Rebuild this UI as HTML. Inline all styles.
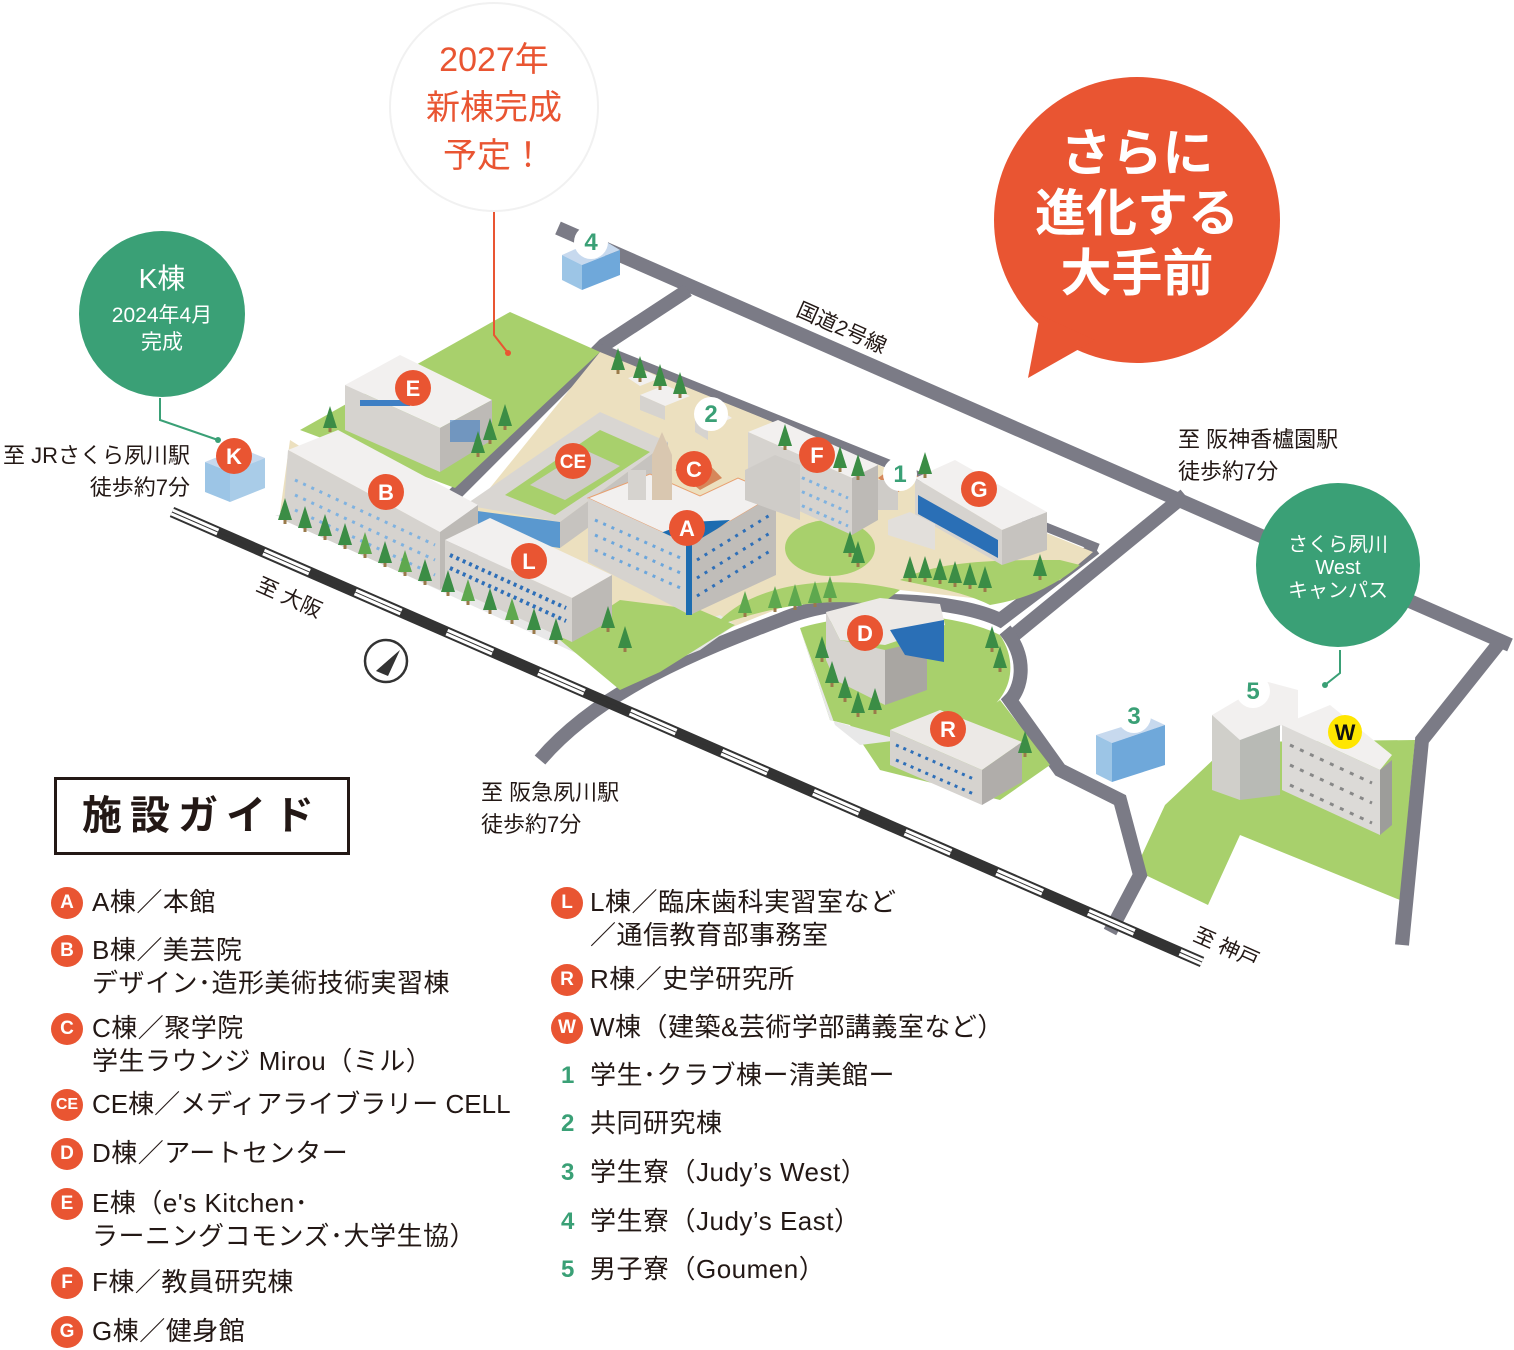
<!DOCTYPE html>
<html><head><meta charset="utf-8"><style>
html,body{margin:0;padding:0;background:#fff}
body{width:1514px;height:1350px;position:relative;overflow:hidden;font-family:"Liberation Sans","Noto Sans CJK JP",sans-serif;color:#231815}
svg{position:absolute;left:0;top:0}
.t{position:absolute;white-space:nowrap}
.lg{position:absolute;font-size:26px;line-height:33px;letter-spacing:0.5px;white-space:nowrap}
.c{position:absolute;width:32px;height:32px;border-radius:50%;background:#e95532;color:#fff;font-weight:bold;font-size:19px;line-height:32px;text-align:center}
.n{position:absolute;color:#3aa076;font-weight:bold;font-size:24px;line-height:30px}
</style></head><body>
<svg width="1514" height="1350" viewBox="0 0 1514 1350">
<defs>
<g id="tr"><rect x="-1.5" y="6" width="3" height="6" fill="#9a7a4a"/><path d="M0,-14 L7,8 L-7,8Z" fill="#3b8d45"/></g>
<g id="tr2"><rect x="-1.5" y="6" width="3" height="6" fill="#9a7a4a"/><path d="M0,-14 L7,8 L-7,8Z" fill="#5ea84e"/></g>
</defs>
<polygon points="1135,870 1165,805 1232,742 1415,740 1400,900 1240,835 1208,905" fill="#a8d06c"/>
<g fill="none" stroke="#7b7b86" stroke-width="14" stroke-linejoin="miter">
<polyline points="558,228 1510,645"/>
<polyline points="688,290 604,345 452,497"/>
<polyline points="1185,495 1008,640"/>
<path d="M1095,548 L1000,620 C960,600 850,590 780,620 C700,650 600,690 540,760"/>
<path d="M1005,630 C1030,660 1020,690 1010,700 L1060,770 L1120,800 L1140,875 L1110,932"/>
<polyline points="1500,642 1422,740 1402,945"/>
</g>
<polyline points="600,348 1098,548" stroke="#7b7b86" stroke-width="9" fill="none"/>
<polygon points="300,430 510,312 600,352 455,488" fill="#a8d06c"/>
<polygon points="600,352 1093,552 1060,580 990,600 900,590 800,600 730,628 640,680 580,650 468,515" fill="#ece0bf"/>
<polygon points="280,512 640,680 700,645 600,600 480,560 290,440" fill="#ece0bf"/>
<polygon points="275,515 630,678 700,650 735,625 720,615 620,650 300,515" fill="#e8e8e8"/>
<polygon points="560,640 620,600 700,610 735,625 660,672 620,690" fill="#a8d06c"/>
<path d="M720,620 C760,580 840,575 900,590 L880,605 C820,596 760,610 720,625Z" fill="#a8d06c"/>
<path d="M900,580 C940,560 1000,560 1060,560 L1080,565 C1050,590 1020,600 990,605 C960,590 920,585 900,580Z" fill="#a8d06c"/>
<ellipse cx="830" cy="548" rx="45" ry="28" fill="#a8d06c"/>
<path d="M800,628 C860,610 950,610 1000,635 C1020,665 1010,700 980,715 L1000,700 L1050,765 L1000,800 L880,770 L850,725 L830,720Z" fill="#a8d06c"/>
<path d="M800,628 L830,720 L900,740 L860,745 L835,725Z" fill="#e8e8e8"/>
<line x1="172" y1="512" x2="1202" y2="962" stroke="#333" stroke-width="11"/>
<line x1="172" y1="512" x2="1202" y2="962" stroke="#fff" stroke-width="7" stroke-dasharray="50,50"/>
<line x1="172" y1="512" x2="1202" y2="962" stroke="#333" stroke-width="1"/>
<polygon points="465,505 600,412 668,442 560,522" fill="#d9d6d2"/>
<polygon points="505,495 600,430 650,452 555,515" fill="#a8d06c"/>
<polygon points="530,485 585,450 620,466 565,500" fill="#cfccc8"/>
<polygon points="470,510 560,522 560,548 470,535" fill="#5a98cf"/>
<polygon points="560,522 668,442 668,470 560,548" fill="#c6c3bf"/>
<polygon points="345,385 400,355 492,400 440,428" fill="#f2f0ef"/>
<polygon points="345,385 440,428 440,472 345,430" fill="#d6d3cf"/>
<polygon points="440,428 492,400 492,440 440,472" fill="#bdbab6"/>
<g fill="#3e7fc4"><rect x="360" y="400" width="50" height="6"/><rect x="450" y="420" width="30" height="22" opacity=".6"/></g>
<polygon points="288,450 338,430 478,505 440,532" fill="#f2f0ef"/>
<polygon points="288,450 440,532 440,590 283,520" fill="#d6d3cf"/>
<polygon points="440,532 478,505 478,560 440,590" fill="#bdbab6"/>
<g stroke="#7fb2e0" stroke-width="3" stroke-dasharray="3,6"><line x1="295" y1="480" x2="435" y2="545"/><line x1="295" y1="495" x2="435" y2="560"/><line x1="295" y1="510" x2="435" y2="575"/></g>
<polygon points="445,540 490,518 612,575 572,598" fill="#f2f0ef"/>
<polygon points="445,540 572,598 572,642 445,585" fill="#d6d3cf"/>
<polygon points="572,598 612,575 612,620 572,642" fill="#bdbab6"/>
<g stroke="#2e6fb8" stroke-width="4" stroke-dasharray="3,4"><line x1="450" y1="555" x2="566" y2="608"/><line x1="450" y1="568" x2="566" y2="621"/></g>
<polygon points="588,498 650,474 700,496 738,478 776,494 690,545" fill="#f2f0ef" stroke="#e8a070" stroke-width="1"/>
<polygon points="655,535 690,522 730,520 690,548" fill="#1d6cb0"/>
<polygon points="588,498 690,545 690,615 588,562" fill="#d6d3cf"/>
<polygon points="690,545 776,494 776,575 690,615" fill="#c0bdb9"/>
<rect x="686" y="545" width="6" height="70" fill="#1d6cb0"/>
<g stroke="#6ba6dc" stroke-width="3" stroke-dasharray="3,6"><line x1="595" y1="520" x2="685" y2="560"/><line x1="595" y1="535" x2="685" y2="575"/><line x1="595" y1="550" x2="685" y2="590"/></g>
<g stroke="#2e6fb8" stroke-width="3" stroke-dasharray="3,6"><line x1="697" y1="560" x2="770" y2="515"/><line x1="697" y1="578" x2="770" y2="533"/><line x1="697" y1="596" x2="770" y2="551"/></g>
<polygon points="652,455 662,432 672,455 672,500 652,500" fill="#d9c7b0"/>
<polygon points="675,470 700,455 722,478 700,490" fill="#d6875a"/>
<rect x="628" y="470" width="18" height="30" fill="#d6d3cf"/>
<polygon points="640,395 665,385 690,396 665,406" fill="#f2f0ef"/><polygon points="640,395 665,406 665,420 640,410" fill="#d6d3cf"/>
<polygon points="695,420 720,410 732,418 708,428" fill="#f2f0ef"/><polygon points="695,420 708,428 708,440 695,432" fill="#d6d3cf"/>
<polygon points="628,378 648,372 660,378 640,386" fill="#f2f0ef"/>
<polygon points="748,432 778,420 878,465 852,478" fill="#f2f0ef"/>
<polygon points="748,432 852,478 852,535 775,500 748,480" fill="#d6d3cf"/>
<polygon points="852,478 878,465 878,520 852,535" fill="#bdbab6"/>
<g stroke="#7fb2e0" stroke-width="3" stroke-dasharray="3,5"><line x1="780" y1="468" x2="848" y2="498"/><line x1="780" y1="482" x2="848" y2="512"/><line x1="780" y1="496" x2="848" y2="526"/></g>
<polygon points="745,470 775,455 800,465 800,520 745,500" fill="#cfccc8"/>
<polygon points="878,478 900,462 920,478 898,492" fill="#d6875a"/>
<rect x="878" y="480" width="20" height="30" fill="#cfccc8"/>
<polygon points="915,478 955,460 1047,512 1002,530" fill="#f2f0ef"/>
<polygon points="915,478 1002,530 1002,565 915,515" fill="#d6d3cf"/>
<polygon points="1002,530 1047,512 1047,550 1002,565" fill="#c6c3bf"/>
<polygon points="918,495 998,540 998,558 918,514" fill="#2a6fb6"/>
<polygon points="888,520 910,512 935,524 935,550 888,535" fill="#e2dfdb"/>
<polygon points="826,612 880,598 940,604 945,625 885,645 840,640" fill="#ece9e6"/>
<polygon points="826,612 840,640 885,650 885,705 835,680 826,660" fill="#d6d3cf"/>
<polygon points="885,650 927,640 927,690 885,705" fill="#a9a6a2"/>
<polygon points="890,630 944,620 944,662 905,655" fill="#2a6fb6"/>
<polygon points="890,730 940,710 1022,742 982,770" fill="#ece9e6"/>
<polygon points="890,730 982,770 982,805 890,765" fill="#d6d3cf"/>
<polygon points="982,770 1022,742 1022,782 982,805" fill="#b0adaa"/>
<g stroke="#2e6fb8" stroke-width="3" stroke-dasharray="3,5"><line x1="896" y1="745" x2="976" y2="780"/><line x1="896" y1="760" x2="976" y2="795"/></g>
<polygon points="205,462 240,448 265,458 230,472" fill="#c7d9ee"/><polygon points="205,462 230,472 230,502 205,492" fill="#9cc5e6"/><polygon points="230,472 265,458 265,488 230,502" fill="#a9cce8"/>
<polygon points="562,255 600,238 620,250 582,265" fill="#c7d9ee"/><polygon points="562,255 582,265 582,290 562,280" fill="#9cc5e6"/><polygon points="582,265 620,250 620,275 582,290" fill="#6fa8da"/>
<polygon points="1096,735 1150,718 1165,725 1112,743" fill="#c7d9ee"/><polygon points="1096,735 1112,743 1112,782 1096,774" fill="#9cc5e6"/><polygon points="1112,743 1165,725 1165,765 1112,782" fill="#6fa8da"/>
<polygon points="1212,715 1268,682 1298,690 1298,720 1240,740" fill="#f2f0ef"/>
<polygon points="1212,715 1240,740 1240,800 1212,790" fill="#d0cfca"/>
<polygon points="1240,740 1280,725 1280,795 1240,800" fill="#b8bab5"/>
<polygon points="1282,725 1330,705 1392,755 1380,770" fill="#f2f0ef"/>
<polygon points="1282,725 1380,770 1380,835 1282,790" fill="#dcdad7"/>
<polygon points="1380,770 1392,760 1392,825 1380,835" fill="#9d9d9a"/>
<g stroke="#888" stroke-width="3" stroke-dasharray="4,7"><line x1="1290" y1="745" x2="1372" y2="783"/><line x1="1290" y1="765" x2="1372" y2="803"/><line x1="1290" y1="785" x2="1372" y2="823"/></g>
<g>
<use href="#tr" x="330" y="420"/><use href="#tr" x="505" y="418"/><use href="#tr" x="490" y="432"/><use href="#tr" x="478" y="445"/>
<use href="#tr" x="285" y="512"/><use href="#tr" x="305" y="520"/><use href="#tr" x="325" y="528"/><use href="#tr" x="345" y="537"/><use href="#tr2" x="365" y="546"/><use href="#tr" x="385" y="555"/><use href="#tr2" x="405" y="564"/><use href="#tr" x="425" y="573"/><use href="#tr" x="448" y="584"/><use href="#tr2" x="468" y="593"/><use href="#tr" x="490" y="602"/><use href="#tr2" x="512" y="612"/><use href="#tr" x="534" y="622"/><use href="#tr" x="556" y="632"/>
<use href="#tr" x="608" y="620"/><use href="#tr" x="625" y="640"/><use href="#tr" x="618" y="362"/><use href="#tr" x="640" y="370"/><use href="#tr" x="660" y="378"/><use href="#tr" x="680" y="386"/>
<use href="#tr" x="785" y="438"/><use href="#tr" x="840" y="460"/><use href="#tr" x="858" y="468"/><use href="#tr" x="925" y="466"/>
<use href="#tr" x="850" y="545"/><use href="#tr" x="858" y="555"/><use href="#tr" x="910" y="570"/><use href="#tr" x="925" y="570"/><use href="#tr" x="940" y="572"/><use href="#tr" x="955" y="575"/><use href="#tr" x="970" y="577"/><use href="#tr" x="985" y="580"/><use href="#tr" x="1040" y="568"/>
<use href="#tr2" x="775" y="600"/><use href="#tr2" x="795" y="598"/><use href="#tr2" x="815" y="595"/><use href="#tr2" x="830" y="590"/><use href="#tr2" x="745" y="605"/>
<use href="#tr" x="822" y="650"/><use href="#tr" x="832" y="675"/><use href="#tr" x="845" y="690"/><use href="#tr" x="858" y="705"/><use href="#tr" x="875" y="702"/><use href="#tr" x="992" y="640"/><use href="#tr" x="1000" y="660"/><use href="#tr" x="1025" y="745"/>
</g>
<circle cx="494" cy="107" r="104" fill="#fff" stroke="#f1f1f1" stroke-width="2"/>
<polyline points="494,212 494,335 508,353" fill="none" stroke="#e95532" stroke-width="2"/>
<circle cx="508" cy="353" r="3" fill="#e95532"/>
<circle cx="1137" cy="220" r="143" fill="#e95532"/>
<polygon points="1040,315 1095,340 1028,378" fill="#e95532"/>
<circle cx="162" cy="314" r="83" fill="#3aa076"/>
<polyline points="160,398 160,420 218,440" fill="none" stroke="#3aa076" stroke-width="2"/><circle cx="218" cy="440" r="3" fill="#3aa076"/>
<circle cx="1338" cy="565" r="82" fill="#3aa076"/>
<polyline points="1340,650 1340,673 1325,685" fill="none" stroke="#3aa076" stroke-width="2"/><circle cx="1325" cy="685" r="3" fill="#3aa076"/>
<circle cx="386" cy="661" r="21" fill="none" stroke="#333" stroke-width="2.5"/>
<polygon points="376,671 400,650 388,676" fill="#333"/><polygon points="376,671 400,650 384,666" fill="#333"/>
<g font-family="Liberation Sans,sans-serif" font-weight="bold" text-anchor="middle">
<g fill="#e95532"><circle cx="413" cy="388" r="18"/><circle cx="386" cy="492" r="18"/><circle cx="573" cy="461" r="18"/><circle cx="694" cy="469" r="18"/><circle cx="687" cy="528" r="18"/><circle cx="529" cy="561" r="18"/><circle cx="817" cy="455" r="18"/><circle cx="979" cy="489" r="18"/><circle cx="865" cy="633" r="18"/><circle cx="948" cy="729" r="18"/><circle cx="234" cy="456" r="18"/></g>
<g fill="#fff" font-size="22"><text x="413" y="396">E</text><text x="386" y="500">B</text><text x="573" y="468" font-size="19">CE</text><text x="694" y="477">C</text><text x="687" y="536">A</text><text x="529" y="569">L</text><text x="817" y="463">F</text><text x="979" y="497">G</text><text x="865" y="641">D</text><text x="948" y="737">R</text><text x="234" y="464">K</text></g>
<g fill="#fff"><circle cx="900" cy="474" r="17"/><circle cx="711" cy="414" r="17"/><circle cx="591" cy="242" r="17"/><circle cx="1134" cy="716" r="17"/><circle cx="1253" cy="691" r="17"/></g>
<circle cx="1345" cy="732" r="17" fill="#ffe600"/>
<g fill="#3aa076" font-size="24"><text x="900" y="482">1</text><text x="711" y="422">2</text><text x="591" y="250">4</text><text x="1134" y="724">3</text><text x="1253" y="699">5</text></g>
<text x="1345" y="740" font-size="22" fill="#111">W</text>
</g>
<g font-family="Liberation Sans,Noto Sans CJK JP,sans-serif" fill="#231815" font-size="21">
<text transform="translate(795,315) rotate(24)">国道2号線</text>
<text transform="translate(255,590) rotate(24)">至 大阪</text>
<text transform="translate(1192,940) rotate(24)">至 神戸</text>
</g>
</svg>
<div class="t" style="left:394px;top:36px;width:200px;text-align:center;color:#e95532;font-size:34px;line-height:48px">2027年<br>新棟完成<br>予定！</div>
<div class="t" style="left:994px;top:124px;width:286px;text-align:center;color:#fff;font-size:51px;font-weight:bold;line-height:60px">さらに<br>進化する<br>大手前</div>
<div class="t" style="left:80px;top:262px;width:164px;text-align:center;color:#fff;font-size:28px;line-height:34px">K棟</div>
<div class="t" style="left:80px;top:302px;width:164px;text-align:center;color:#fff;font-size:21px;line-height:27px">2024年4月<br>完成</div>
<div class="t" style="left:1256px;top:534px;width:164px;text-align:center;color:#fff;font-size:20px;line-height:23px">さくら夙川<br>West<br>キャンパス</div>
<div class="t" style="left:0;top:440px;width:190px;text-align:right;font-size:22px;line-height:32px">至 JRさくら夙川駅<br>徒歩約7分</div>
<div class="t" style="left:1178px;top:424px;font-size:22px;line-height:32px">至 阪神香櫨園駅<br>徒歩約7分</div>
<div class="t" style="left:481px;top:777px;font-size:22px;line-height:32px">至 阪急夙川駅<br>徒歩約7分</div>
<div class="t" style="left:54px;top:777px;width:290px;height:72px;border:3px solid #231815;text-align:center;font-size:40px;font-weight:bold;line-height:72px;letter-spacing:8px">施設ガイド</div>

<div class="c" style="left:51px;top:887px">A</div><div class="lg" style="left:92px;top:886px">A棟／本館</div>
<div class="c" style="left:51px;top:935px">B</div><div class="lg" style="left:92px;top:934px">B棟／美芸院<br>デザイン･造形美術技術実習棟</div>
<div class="c" style="left:51px;top:1013px">C</div><div class="lg" style="left:92px;top:1012px">C棟／聚学院<br>学生ラウンジ Mirou（ミル）</div>
<div class="c" style="left:51px;top:1089px;font-size:16px">CE</div><div class="lg" style="left:92px;top:1088px;letter-spacing:0">CE棟／メディアライブラリー CELL</div>
<div class="c" style="left:51px;top:1138px">D</div><div class="lg" style="left:92px;top:1137px">D棟／アートセンター</div>
<div class="c" style="left:51px;top:1188px">E</div><div class="lg" style="left:92px;top:1187px">E棟（e's Kitchen･<br>ラーニングコモンズ･大学生協）</div>
<div class="c" style="left:51px;top:1267px">F</div><div class="lg" style="left:92px;top:1266px">F棟／教員研究棟</div>
<div class="c" style="left:51px;top:1316px">G</div><div class="lg" style="left:92px;top:1315px">G棟／健身館</div>

<div class="c" style="left:551px;top:887px">L</div><div class="lg" style="left:590px;top:886px">L棟／臨床歯科実習室など<br>／通信教育部事務室</div>
<div class="c" style="left:551px;top:964px">R</div><div class="lg" style="left:590px;top:963px">R棟／史学研究所</div>
<div class="c" style="left:551px;top:1012px">W</div><div class="lg" style="left:590px;top:1011px">W棟（建築&amp;芸術学部講義室など）</div>
<div class="n" style="left:561px;top:1061px">1</div><div class="lg" style="left:590px;top:1059px">学生･クラブ棟ー清美館ー</div>
<div class="n" style="left:561px;top:1109px">2</div><div class="lg" style="left:590px;top:1107px">共同研究棟</div>
<div class="n" style="left:561px;top:1158px">3</div><div class="lg" style="left:590px;top:1156px">学生寮（Judy’s West）</div>
<div class="n" style="left:561px;top:1207px">4</div><div class="lg" style="left:590px;top:1205px">学生寮（Judy’s East）</div>
<div class="n" style="left:561px;top:1255px">5</div><div class="lg" style="left:590px;top:1253px">男子寮（Goumen）</div>
</body></html>
